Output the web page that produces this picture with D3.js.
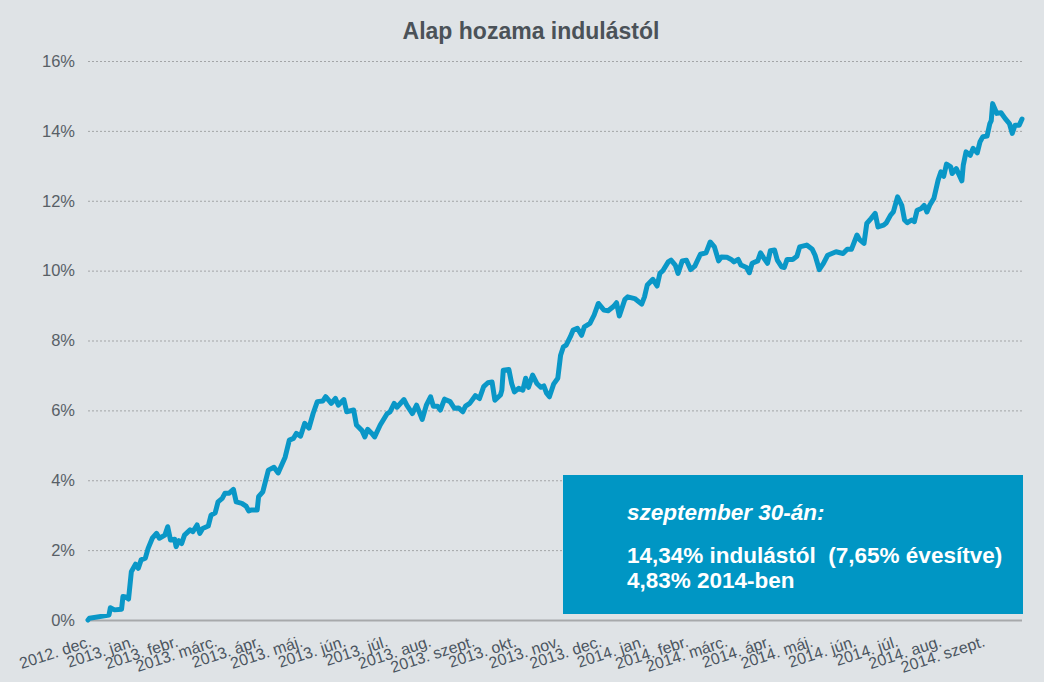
<!DOCTYPE html>
<html>
<head>
<meta charset="utf-8">
<script src="https://cdn.jsdelivr.net/npm/d3@7"></script>
<style>
  html, body { margin: 0; padding: 0; background: #dfe3e6; }
  svg { display: block; font-family: "Liberation Sans", Arial, sans-serif; }
</style>
</head>
<body>
<svg id="chart" width="1044" height="682"></svg>
<script>
// ---- DATA ----
const title = "Alap hozama indulástól";
const startDate = "2012-12-01";
const endDate = "2014-09-30";
const monthStarts = ["2012-12-01","2013-01-01","2013-02-01","2013-03-01","2013-04-01","2013-05-01",
  "2013-06-01","2013-07-01","2013-08-01","2013-09-01","2013-10-01","2013-11-01","2013-12-01",
  "2014-01-01","2014-02-01","2014-03-01","2014-04-01","2014-05-01","2014-06-01","2014-07-01",
  "2014-08-01","2014-09-01"];
const monthLabels = ["2012. dec.","2013. jan.","2013. febr.","2013. márc.","2013. ápr.","2013. máj.",
  "2013. jún.","2013. júl.","2013. aug.","2013. szept.","2013. okt.","2013. nov.","2013. dec.",
  "2014. jan.","2014. febr.","2014. márc.","2014. ápr.","2014. máj.","2014. jún.","2014. júl.",
  "2014. aug.","2014. szept."];
const yTicks = [0, 2, 4, 6, 8, 10, 12, 14, 16];
// days since startDate
const dayOffsets = [0,1,15,16,19,24,25,27,29,31,34,36,38,41,43,46,49,51,55,57,59,62,63,65,67,69,73,75,78,80,82,86,88,91,93,96,98,101,104,106,110,113,115,117,121,122,125,129,133,136,139,141,144,147,149,152,155,158,161,164,168,170,173,
  174,177,179,183,185,190,192,196,198,200,203,205,209,214,216,219,221,226,228,232,235,239,242,245,247,250,252,255,259,262,265,268,270,273,277,280,283,286,289,291,295,296,297,301,303,305,308,311,313,315,318,321,324,326,328,330,333,336,338,340,342,345,347,350,
  353,355,359,362,365,369,372,376,378,380,384,386,391,396,398,400,404,407,409,411,415,417,420,422,425,428,431,434,438,442,445,448,451,453,457,460,462,465,467,471,473,475,479,481,483,486,488,491,493,496,498,500,504,507,509,514,518,520,523,526,529,535,
  540,543,546,550,552,555,557,560,563,565,569,571,574,576,579,582,584,586,589,591,593,596,598,600,602,605,608,610,612,614,617,618,621,625,626,628,631,633,636,638,640,643,645,646,647,650,653,656,659,661,663,666,668];
// return since launch, %
const returns = [0.00,0.05,0.14,0.35,0.29,0.31,0.67,0.66,0.60,1.38,1.60,1.48,1.72,1.77,2.05,2.34,2.48,2.34,2.43,2.67,2.29,2.31,2.10,2.27,2.19,2.43,2.58,2.53,2.72,2.48,2.62,2.69,3.00,3.07,3.38,3.48,3.63,3.63,3.74,3.38,3.34,3.26,3.12,3.15,3.15,3.53,3.67,4.29,4.37,4.21,4.48,4.66,5.15,5.20,5.34,5.26,5.63,5.49,5.91,6.25,6.27,6.39,6.25,
  6.20,6.34,6.15,6.31,5.96,6.01,5.58,5.42,5.24,5.46,5.34,5.24,5.58,5.91,5.96,6.20,6.09,6.31,6.15,5.91,6.15,5.74,6.15,6.39,6.12,6.12,6.01,6.32,6.25,6.06,6.07,5.96,6.12,6.20,6.42,6.34,6.68,6.79,6.81,6.29,6.44,6.58,7.15,7.17,6.77,6.53,6.63,6.58,6.92,6.66,7.01,6.77,6.66,6.70,6.49,6.39,6.75,6.92,7.58,7.82,7.87,8.11,8.30,8.35,
  8.15,8.39,8.49,8.73,9.06,8.87,8.85,8.98,9.08,8.70,9.18,9.25,9.20,9.04,9.25,9.59,9.75,9.56,9.92,9.99,10.25,10.30,10.16,9.92,10.28,10.30,10.03,10.13,10.47,10.51,10.82,10.68,10.28,10.39,10.38,10.32,10.25,10.32,10.16,10.09,9.94,10.21,10.28,10.51,10.38,10.21,10.57,10.59,10.30,10.11,10.09,10.32,10.32,10.41,10.68,10.73,10.61,10.44,10.03,10.21,10.44,10.54,
  10.49,10.61,10.61,11.02,10.88,10.78,11.35,11.49,11.64,11.25,11.30,11.37,11.59,11.68,12.11,11.87,11.45,11.37,11.45,11.40,11.73,11.78,11.87,11.68,11.87,12.07,12.59,12.83,12.70,13.05,12.97,12.78,12.92,12.57,13.02,13.40,13.30,13.50,13.37,13.69,13.83,13.85,14.21,14.29,14.78,14.50,14.52,14.35,14.21,13.93,14.16,14.16,14.34];
const boxLines = ["szeptember 30-án:", "14,34% indulástól  (7,65% évesítve)", "4,83% 2014-ben"];

// ---- CHART ----
const svg = d3.select("#chart");
const W = 1044, H = 682;
const plot = { left: 88, right: 1022, top: 61, bottom: 620 };
const parse = d3.timeParse("%Y-%m-%d");
const t0 = parse(startDate), t1 = parse(endDate);

const x = d3.scaleTime().domain([t0, t1]).range([plot.left, plot.right]);
const y = d3.scaleLinear().domain([0, 16]).range([plot.bottom, plot.top]);

svg.append("rect").attr("width", W).attr("height", H).attr("fill", "#dfe3e6");

// title
svg.append("text")
  .attr("x", 531).attr("y", 39)
  .attr("text-anchor", "middle")
  .attr("font-size", 23).attr("font-weight", "bold")
  .attr("fill", "#4b5258")
  .text(title);

// y axis with gridlines
const yAxis = svg.append("g")
  .attr("transform", `translate(${plot.left},0)`)
  .call(d3.axisLeft(y).tickValues(yTicks).tickFormat(d => d + "%")
    .tickSize(-(plot.right - plot.left)).tickPadding(13));
yAxis.select(".domain").remove();
yAxis.selectAll(".tick line")
  .attr("stroke", "#a3a5a7")
  .attr("stroke-width", 1)
  .attr("stroke-dasharray", "2,2");
yAxis.selectAll(".tick").filter(d => d === 0).select("line")
  .attr("stroke", "#a7a9ab").attr("stroke-width", 2).attr("stroke-dasharray", null);
yAxis.selectAll(".tick text")
  .attr("font-size", 16.5).attr("fill", "#585f66")
  .attr("font-family", "Liberation Sans, Arial, sans-serif");

// x axis
const xAxis = svg.append("g")
  .attr("transform", `translate(0,${plot.bottom})`)
  .call(d3.axisBottom(x).tickValues(monthStarts.map(parse))
    .tickFormat((d, i) => monthLabels[i]).tickSize(0));
xAxis.select(".domain").remove();
xAxis.selectAll(".tick text")
  .attr("font-size", 16).attr("fill", "#4b5560")
  .attr("font-family", "Liberation Sans, Arial, sans-serif")
  .attr("text-anchor", "end")
  .attr("dy", null)
  .attr("y", 0)
  .attr("transform", "translate(4,26) rotate(-18)");

// line
const data = dayOffsets.map((d, i) => ({ date: d3.timeDay.offset(t0, d), v: returns[i] }));
svg.append("path")
  .datum(data)
  .attr("fill", "none")
  .attr("stroke", "#0a97c7")
  .attr("stroke-width", 5)
  .attr("stroke-linejoin", "round")
  .attr("stroke-linecap", "round")
  .attr("d", d3.line().x(d => x(d.date)).y(d => y(d.v)));

// info box
const box = svg.append("g").attr("transform", "translate(563,475)");
box.append("rect").attr("width", 460).attr("height", 139).attr("fill", "#0096c4");
box.append("text").attr("x", 64).attr("y", 45)
  .attr("fill", "#ffffff").attr("font-size", 22.5).attr("font-weight", "bold").attr("font-style", "italic")
  .text(boxLines[0]);
box.append("text").attr("x", 64).attr("y", 88)
  .attr("fill", "#ffffff").attr("font-size", 22.5).attr("font-weight", "bold")
  .attr("xml:space", "preserve").style("white-space", "pre")
  .text(boxLines[1]);
box.append("text").attr("x", 64).attr("y", 113)
  .attr("fill", "#ffffff").attr("font-size", 22.5).attr("font-weight", "bold")
  .text(boxLines[2]);
</script>
</body>
</html>
